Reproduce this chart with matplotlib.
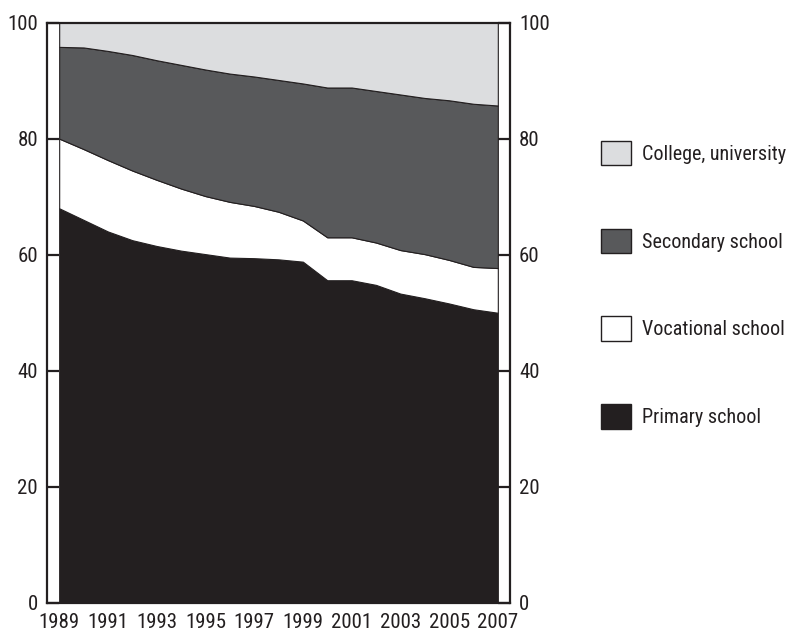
import matplotlib
matplotlib.use("Agg")
import matplotlib.pyplot as plt

# Share of population by education level, percent (stacked from the bottom)
years = list(range(1989, 2008))
primary = [68.0, 66.0, 64.0, 62.5, 61.5, 60.7, 60.1, 59.5, 59.4, 59.2,
           58.8, 55.6, 55.6, 54.8, 53.3, 52.5, 51.6, 50.6, 50.0]
vocational = [12.0, 12.2, 12.3, 12.0, 11.4, 10.7, 10.0, 9.6, 9.0, 8.2,
              7.1, 7.4, 7.4, 7.3, 7.5, 7.6, 7.5, 7.3, 7.7]
secondary = [15.8, 17.5, 18.8, 19.9, 20.6, 21.3, 21.8, 22.1, 22.3, 22.7,
             23.6, 25.8, 25.8, 26.1, 26.8, 26.9, 27.5, 28.1, 28.0]
college = [4.2, 4.3, 4.9, 5.6, 6.5, 7.3, 8.1, 8.8, 9.3, 9.9,
           10.5, 11.2, 11.2, 11.8, 12.4, 13.0, 13.4, 14.0, 14.3]

labels = ["Primary school", "Vocational school", "Secondary school", "College, university"]
colors = ["#231f20", "#ffffff", "#58595b", "#dcdddf"]
ink = "#231f20"

plt.rcParams["font.family"] = ["Roboto Condensed", "DejaVu Sans"]
plt.rcParams["font.size"] = 15

fig = plt.figure(figsize=(7.95, 6.33), dpi=100)
ax = fig.add_axes([47 / 795, 30 / 633, 463 / 795, 580.5 / 633])

ax.stackplot(years, primary, vocational, secondary, college,
             colors=colors, edgecolor=ink, linewidth=0.8, labels=labels)

ax.set_xlim(1988.5, 2007.5)
ax.set_ylim(0, 100)
ax.set_xticks(years[::2])
ax.set_yticks(range(0, 101, 20))

for side in ax.spines.values():
    side.set_linewidth(1.6)
    side.set_color(ink)

ax.tick_params(axis="y", direction="in", length=8.5, width=1.6, color=ink,
               left=True, right=True, labelleft=True, labelright=True,
               pad=6.5, labelcolor=ink)
ax.tick_params(axis="x", length=0, pad=7, labelcolor=ink)

# legend to the right, top entry first
handles, names = ax.get_legend_handles_labels()
leg = fig.legend(handles[::-1], names[::-1], loc="upper left",
                 bbox_to_anchor=(601 / 795, 1 - 141 / 633),
                 frameon=False, handlelength=1.48, handleheight=1.48,
                 handletextpad=0.55, labelspacing=3.15, borderaxespad=0,
                 borderpad=0, fontsize=14.5)
for patch in leg.get_patches():
    patch.set_edgecolor(ink)
    patch.set_linewidth(1.0)
for t in leg.get_texts():
    t.set_color(ink)

fig.savefig("out.png", dpi=100)
